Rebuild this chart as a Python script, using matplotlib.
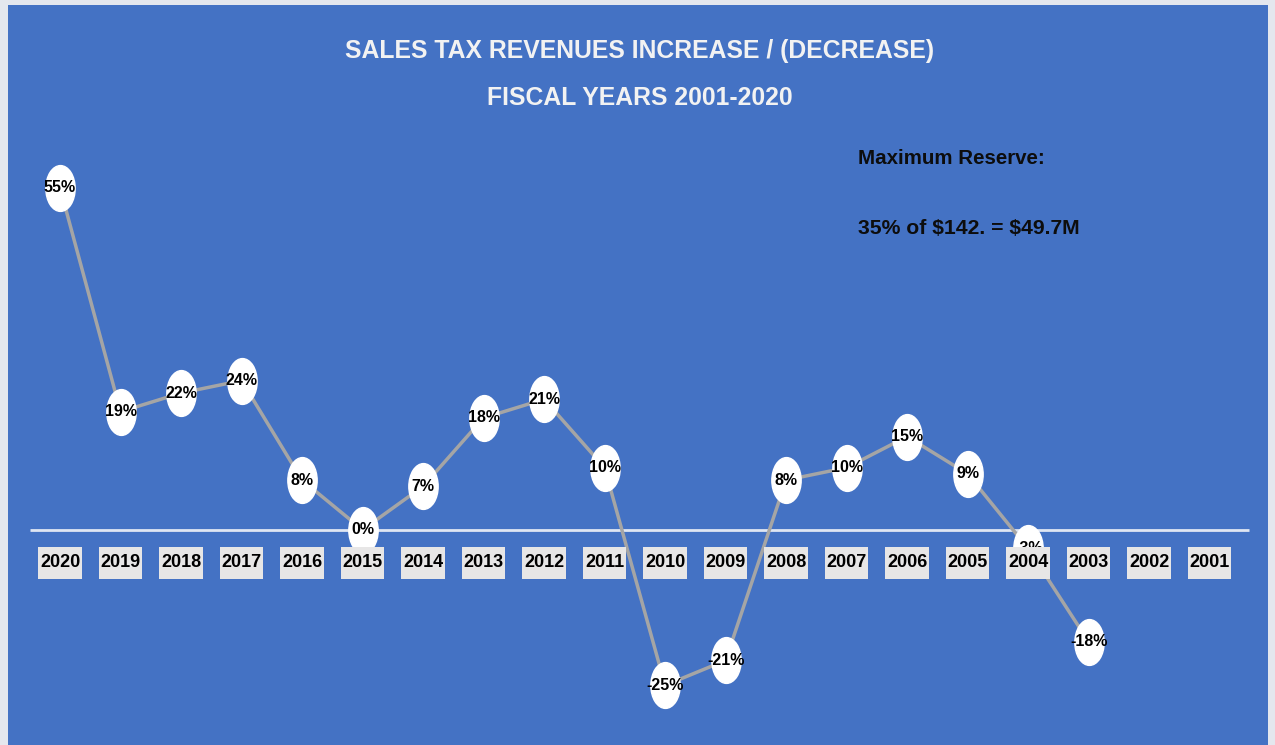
import matplotlib.pyplot as plt
from matplotlib import font_manager
from matplotlib.patches import Rectangle
from matplotlib.path import Path
from matplotlib.transforms import Affine2D

# fiscal years, newest first as in the original
years = ['2020', '2019', '2018', '2017', '2016', '2015', '2014', '2013', '2012', '2011',
         '2010', '2009', '2008', '2007', '2006', '2005', '2004', '2003', '2002', '2001']
# percent change (2002 and 2001 have no value)
pct = [55, 19, 22, 24, 8, 0, 7, 18, 21, 10,
       -25, -21, 8, 10, 15, 9, -3, -18, None, None]

BLUE = '#4472c4'

# narrow font if there is one, else Liberation Sans
names = {f.name for f in font_manager.fontManager.ttflist}
FONT = 'Liberation Sans'
for cand in ['Liberation Sans Narrow', 'DejaVu Sans Condensed']:
    if cand in names:
        FONT = cand
        break
plt.rcParams['font.family'] = [FONT, 'DejaVu Sans']
k = 1.12 if FONT != 'Liberation Sans' else 1.0

fig = plt.figure(figsize=(12.75, 7.45), dpi=100)
fig.patch.set_facecolor('#e4e7ee')

ax = fig.add_axes([0, 0, 1, 1])
ax.set_facecolor('none')
ax.set_xlim(-0.992, 20.08)
ax.set_ylim(-34.6, 85.2)
ax.axis('off')
ax.set_zorder(2)

# blue chart area inside a thin light frame
bg = fig.add_axes([8 / 1275, 0, 1260 / 1275, 740 / 745])
bg.set_facecolor(BLUE)
bg.set_xticks([])
bg.set_yticks([])
for s in bg.spines.values():
    s.set_visible(False)
bg.set_zorder(0)

# zero line
ax.hlines(0, -0.5, 19.65, color='#dfe6f3', lw=2, zorder=1)

xs = [i for i, v in enumerate(pct) if v is not None]
ys = [v for v in pct if v is not None]

ellipse = Path.unit_circle().transformed(Affine2D().scale(0.64, 1.0))
ax.plot(xs, ys, color='#a5a5a5', lw=2.5, zorder=2)
ax.plot(xs, ys, ls='none', marker=ellipse, markersize=33,
        markerfacecolor='white', markeredgecolor='white', zorder=3)
for x, v in zip(xs, ys):
    ax.text(x, v, f'{v}%', ha='center', va='center', fontsize=11.5 * k,
            fontweight='bold', color='black', zorder=4)

# category labels in grey boxes
for i, yr in enumerate(years):
    ax.add_patch(Rectangle((i - 0.36, -7.9), 0.72, 5.15, facecolor='#e7e6e6',
                           edgecolor='none', zorder=5))
    ax.text(i, -5.3, yr, ha='center', va='center', fontsize=13 * k,
            fontweight='bold', color='black', zorder=6)

fig.text(640 / 1275, 1 - 51 / 745, 'SALES TAX REVENUES INCREASE / (DECREASE)',
         ha='center', va='center', fontsize=17.8 * k, fontweight='bold',
         color='#f2f2f2', zorder=5)
fig.text(640 / 1275, 1 - 98 / 745, 'FISCAL YEARS 2001-2020',
         ha='center', va='center', fontsize=17.8 * k, fontweight='bold',
         color='#f2f2f2', zorder=5)

fig.text(858 / 1275, 1 - 158 / 745, 'Maximum Reserve:', ha='left', va='center',
         fontsize=14.8 * k, fontweight='bold', color='#0d0d0d', zorder=5)
fig.text(858 / 1275, 1 - 228 / 745, r'35% of \$142. = \$49.7M', ha='left', va='center',
         fontsize=15.2 * k, fontweight='bold', color='#0d0d0d', zorder=5)

fig.savefig('out.png', dpi=100, facecolor=fig.get_facecolor())
